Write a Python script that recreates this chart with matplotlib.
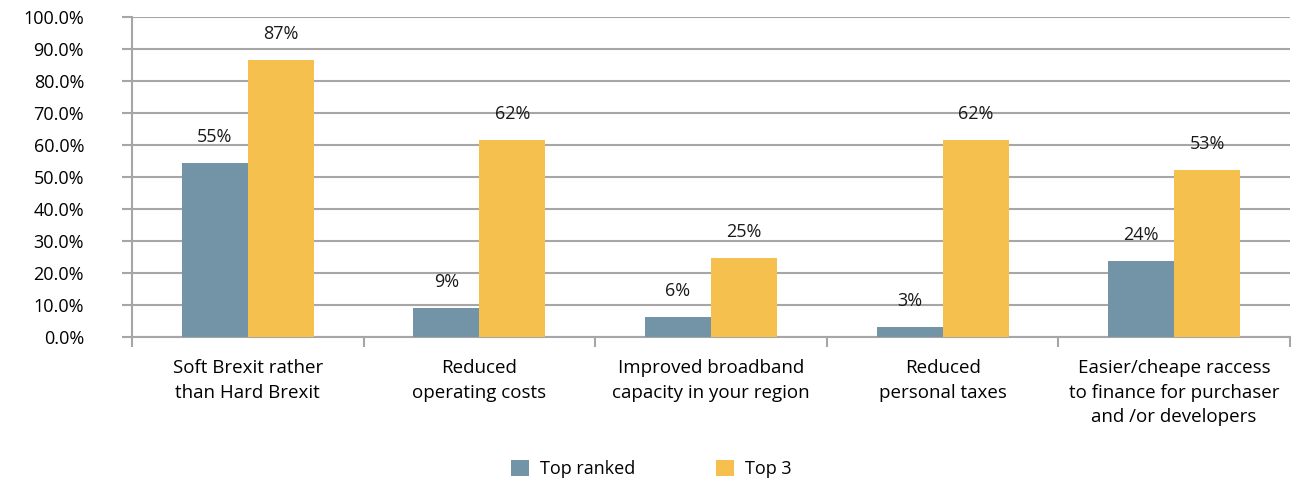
import numpy as np
import matplotlib
matplotlib.use("Agg")
import matplotlib.pyplot as plt
from matplotlib.ticker import FuncFormatter, FixedLocator

plt.rcParams['font.family'] = ['Open Sans', 'DejaVu Sans']

categories = ["Soft Brexit rather\nthan Hard Brexit",
              "Reduced\noperating costs",
              "Improved broadband\ncapacity in your region",
              "Reduced\npersonal taxes",
              "Easier/cheape raccess\nto finance for purchaser\nand /or developers"]
top_ranked = [54.4, 9.1, 6.3, 3.1, 23.8]
top3 = [86.6, 61.6, 24.7, 61.6, 52.2]
top_ranked_labels = ["55%", "9%", "6%", "3%", "24%"]
top3_labels = ["87%", "62%", "25%", "62%", "53%"]
yticks = np.arange(0, 101, 10)

blue = "#7393a7"
yellow = "#f6c04f"
grid = "#a6a6a6"
fs = 13

fig = plt.figure(figsize=(13.05, 4.86), dpi=100)
ax = fig.add_axes([0.1011, 0.3066, 0.8874, 0.6584])

x = np.arange(len(categories))
w = 0.285
b1 = ax.bar(x - w/2, top_ranked, w, color=blue, label="Top ranked", zorder=3)
b2 = ax.bar(x + w/2, top3, w, color=yellow, label="Top 3", zorder=3)

for bars, labs in ((b1, top_ranked_labels), (b2, top3_labels)):
    for r, t in zip(bars, labs):
        ax.annotate(t, (r.get_x() + r.get_width()/2, r.get_height()),
                    xytext=(0, 12), textcoords="offset points",
                    ha="center", va="bottom", fontsize=fs, color="#1a1a1a")

ax.set_xlim(-0.5, len(categories) - 0.5)
ax.set_ylim(0, 100)
ax.set_yticks(yticks)
ax.yaxis.set_major_formatter(FuncFormatter(lambda v, p: f"{v:.1f}%"))
ax.yaxis.grid(True, color=grid, linewidth=1.5, zorder=0)
ax.tick_params(axis="y", length=7.5, width=1.5, color=grid, labelsize=fs, pad=27)
for lab in ax.get_yticklabels():
    lab.set_horizontalalignment("right")

ax.set_xticks(x)
ax.set_xticklabels(categories, fontsize=13.5, linespacing=1.47)
ax.tick_params(axis="x", length=0, pad=16)
ax.xaxis.set_minor_locator(FixedLocator(np.arange(-0.5, len(categories), 1)))
ax.tick_params(axis="x", which="minor", length=7, width=1.5, color=grid)

for s in ("top", "right"):
    ax.spines[s].set_visible(False)
for s in ("left", "bottom"):
    ax.spines[s].set_color(grid)
    ax.spines[s].set_linewidth(1.5)

fig.legend(handles=[b1, b2], loc="center", bbox_to_anchor=(0.499, 0.035),
           ncol=2, frameon=False, fontsize=fs, handlelength=1.0,
           handleheight=1.0, columnspacing=4.45, handletextpad=0.6)

fig.savefig("out.png", dpi=100)
